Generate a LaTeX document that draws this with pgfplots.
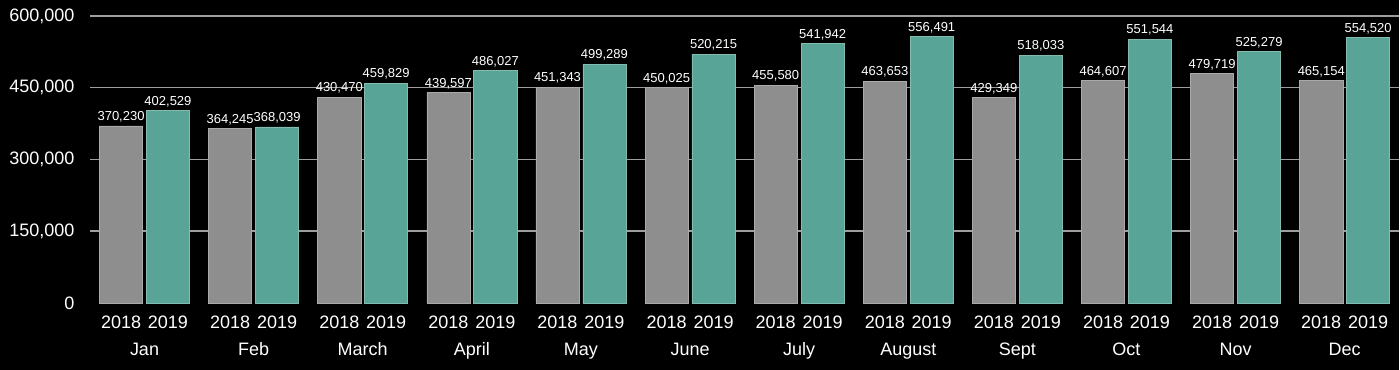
\documentclass[border=0pt]{standalone}
\usepackage{fontspec}
\setmainfont{Liberation Sans}
\usepackage{pgfplots}
\pgfplotsset{compat=1.18}
\definecolor{cA}{RGB}{142,142,142}
\definecolor{cB}{RGB}{88,164,150}
\definecolor{gridc}{RGB}{158,158,158}
\begin{document}
\begin{tikzpicture}
\fill[black] (-90pt,-67pt) rectangle (1310pt,303pt);
\begin{axis}[
 at={(0,0)}, anchor=south west,
 scale only axis, width=1310pt, height=287pt,
 xmin=-0.5, xmax=11.5, ymin=0, ymax=600000,
 clip=false,
 axis line style={draw=none},
 major tick length=0pt,
 ybar, bar width=0.395,
 ytick={150000,300000,450000,600000},
 extra y ticks={0},
 extra y tick style={grid=none},
 ymajorgrids, grid style={gridc, line width=1.5pt},
 scaled y ticks=false,
 /pgf/number format/.cd, fixed, 1000 sep={,}, assume math mode=true, /pgfplots/.cd,
 yticklabel style={font=\fontsize{18}{20}\selectfont, text=white, xshift=-12pt},
 xtick={0,...,11},
 xticklabels={Jan,Feb,March,April,May,June,July,August,Sept,Oct,Nov,Dec},
 xticklabel style={font=\fontsize{18}{20}\selectfont, text=white, anchor=base, yshift=-53pt},
 extra x ticks={-0.215,0.215,0.785,1.215,1.785,2.215,2.785,3.215,3.785,4.215,4.785,5.215,5.785,6.215,6.785,7.215,7.785,8.215,8.785,9.215,9.785,10.215,10.785,11.215},
 extra x tick labels={2018,2019,2018,2019,2018,2019,2018,2019,2018,2019,2018,2019,2018,2019,2018,2019,2018,2019,2018,2019,2018,2019,2018,2019},
 extra x tick style={xticklabel style={yshift=27pt}},
 nodes near coords,
 nodes near coords style={font=\fontsize{13}{15}\selectfont, text=white},
]
\addplot[fill=cA, draw=cA!75!white, line width=0.6pt, bar shift=-0.215] coordinates {
(0,370230) (1,364245) (2,430470) (3,439597) (4,451343) (5,450025)
(6,455580) (7,463653) (8,429349) (9,464607) (10,479719) (11,465154)};
\addplot[fill=cB, draw=cB!75!white, line width=0.6pt, bar shift=0.215] coordinates {
(0,402529) (1,368039) (2,459829) (3,486027) (4,499289) (5,520215)
(6,541942) (7,556491) (8,518033) (9,551544) (10,525279) (11,554520)};
\end{axis}
\end{tikzpicture}
\end{document}
